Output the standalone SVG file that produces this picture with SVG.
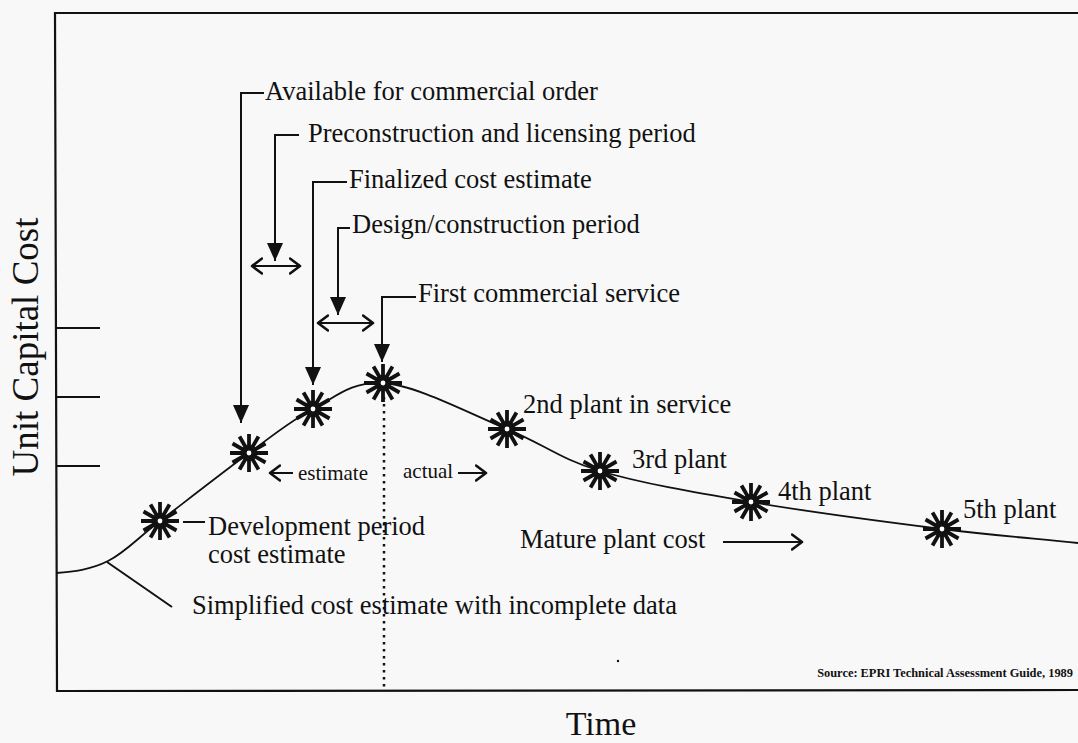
<svg xmlns="http://www.w3.org/2000/svg" xmlns:xlink="http://www.w3.org/1999/xlink" width="1078" height="743" viewBox="0 0 1078 743">
<style>
.lbl{font-family:"Liberation Serif","Times New Roman",serif;font-size:26.5px;fill:#111}
.small{font-family:"Liberation Serif","Times New Roman",serif;font-size:21px;fill:#111}
.axis{font-family:"Liberation Serif","Times New Roman",serif;font-size:37px;fill:#111}
.src{font-family:"Liberation Serif","Times New Roman",serif;font-size:12.4px;font-weight:bold;fill:#111}
.ln{fill:none;stroke:#111;stroke-width:2}
.frame{fill:none;stroke:#111;stroke-width:2.2}
.curve{fill:none;stroke:#111;stroke-width:1.8}
.ptr{fill:none;stroke:#111;stroke-width:2;marker-end:url(#tri)}
.dbl{fill:none;stroke:#111;stroke-width:2;marker-start:url(#chev);marker-end:url(#chev)}
.one{fill:none;stroke:#111;stroke-width:2;marker-end:url(#chev)}
.dots{fill:none;stroke:#111;stroke-width:2.5;stroke-dasharray:2.5 4.5}
</style>
<defs>
<marker id="tri" markerUnits="userSpaceOnUse" markerWidth="18" markerHeight="16" refX="18" refY="8" orient="auto" viewBox="0 0 18 16"><path d="M0,0 L18,8 L0,16 Z" fill="#111"/></marker>
<marker id="chev" markerUnits="userSpaceOnUse" markerWidth="14" markerHeight="18" refX="11" refY="9" orient="auto-start-reverse" viewBox="0 0 14 18"><path d="M1,1.5 L11,9 L1,16.5" fill="none" stroke="#111" stroke-width="2.6" stroke-linecap="round" stroke-linejoin="round"/></marker>
<g id="star">
<g stroke="#111" stroke-width="3.8" stroke-linecap="butt">
<line x1="0" y1="-19" x2="0" y2="19"/>
<line x1="-19" y1="0" x2="19" y2="0"/>
<line x1="-9.5" y1="-16.5" x2="9.5" y2="16.5"/>
<line x1="9.5" y1="-16.5" x2="-9.5" y2="16.5"/>
<line x1="-16.5" y1="-9.5" x2="16.5" y2="9.5"/>
<line x1="16.5" y1="-9.5" x2="-16.5" y2="9.5"/>
</g>
<circle r="8" fill="#111"/>
<circle r="2.4" fill="#fff"/>
</g>
</defs>
<rect x="0" y="0" width="1078" height="743" fill="#f8f8f8"/>

<g id="frame">
<path class="frame" d="M1078,13 L55,13 L57,691 L1078,690"/>
<line class="ln" x1="57" y1="328" x2="100" y2="328"/>
<line class="ln" x1="57" y1="397" x2="100" y2="397"/>
<line class="ln" x1="57" y1="466" x2="100" y2="466"/>
<text class="axis" transform="translate(38,347) rotate(-90)" text-anchor="middle">Unit Capital Cost</text>
<text class="axis" x="601" y="735" text-anchor="middle" style="font-size:34px">Time</text>
<text class="src" x="1073" y="677" text-anchor="end">Source: EPRI Technical Assessment Guide, 1989</text>
<circle cx="618" cy="661" r="1.2" fill="#111"/>
</g>

<g id="connectors">
<path class="curve" d="M56,573 C73.3,571.7 90.7,569.7 108,561 C125.3,552.3 136.5,539 160,521 C183.5,503 223.5,471.7 249,453 C274.5,434.3 290.7,420.7 313,409 C335.3,397.3 350.7,381.3 383,383 C415.3,384.7 470.8,414.3 507,429 C543.2,443.7 559.3,458.8 600,471 C640.7,483.2 694,492.3 751,502 C808,511.7 887.5,522.2 942,529 C996.5,535.8 1032.7,538.3 1078,543"/>
<line class="ln" x1="107" y1="562" x2="172" y2="607"/>
<line class="dots" x1="384" y1="397" x2="384" y2="690"/>
<path class="ptr" d="M264,93 L241,93 L241,423"/>
<path class="ptr" d="M299,135 L275,135 L275,261"/>
<line class="dbl" x1="252" y1="266" x2="300" y2="266"/>
<path class="ptr" d="M347,182 L313,182 L313,385"/>
<path class="ptr" d="M350,228 L338,228 L338,315"/>
<line class="dbl" x1="318" y1="323" x2="373" y2="323"/>
<path class="ptr" d="M416,297 L382,297 L382,362"/>
<line class="ln" x1="183" y1="522" x2="205" y2="522"/>
<line class="one" x1="293" y1="473" x2="270" y2="473"/>
<line class="one" x1="458" y1="473" x2="486" y2="473"/>
<line class="one" x1="723" y1="542" x2="802" y2="542"/>
</g>

<g id="n-dev"><use xlink:href="#star" href="#star" x="160" y="521"/><text class="lbl" x="208" y="535">Development period</text><text class="lbl" x="208" y="563">cost estimate</text></g>
<g id="n-available"><use xlink:href="#star" href="#star" x="249" y="453"/><text class="lbl" x="265" y="100">Available for commercial order</text></g>
<g id="n-precon"><text class="lbl" x="308" y="142">Preconstruction and licensing period</text></g>
<g id="n-finalized"><use xlink:href="#star" href="#star" x="313" y="409"/><text class="lbl" x="349" y="188">Finalized cost estimate</text></g>
<g id="n-design"><text class="lbl" x="352" y="233">Design/construction period</text></g>
<g id="n-first"><use xlink:href="#star" href="#star" x="383" y="383"/><text class="lbl" x="418" y="302">First commercial service</text></g>
<g id="n-estimate"><text class="small" x="298" y="480">estimate</text><text class="small" x="403" y="478">actual</text></g>
<g id="n-simplified"><text class="lbl" x="192" y="614">Simplified cost estimate with incomplete data</text></g>
<g id="n-2nd"><use xlink:href="#star" href="#star" x="507" y="429"/><text class="lbl" x="523" y="413">2nd plant in service</text></g>
<g id="n-3rd"><use xlink:href="#star" href="#star" x="600" y="471"/><text class="lbl" x="632" y="468">3rd plant</text></g>
<g id="n-4th"><use xlink:href="#star" href="#star" x="751" y="502"/><text class="lbl" x="778" y="500">4th plant</text></g>
<g id="n-5th"><use xlink:href="#star" href="#star" x="942" y="529"/><text class="lbl" x="963" y="518">5th plant</text></g>
<g id="n-mature"><text class="lbl" x="520" y="548">Mature plant cost</text></g>
</svg>
